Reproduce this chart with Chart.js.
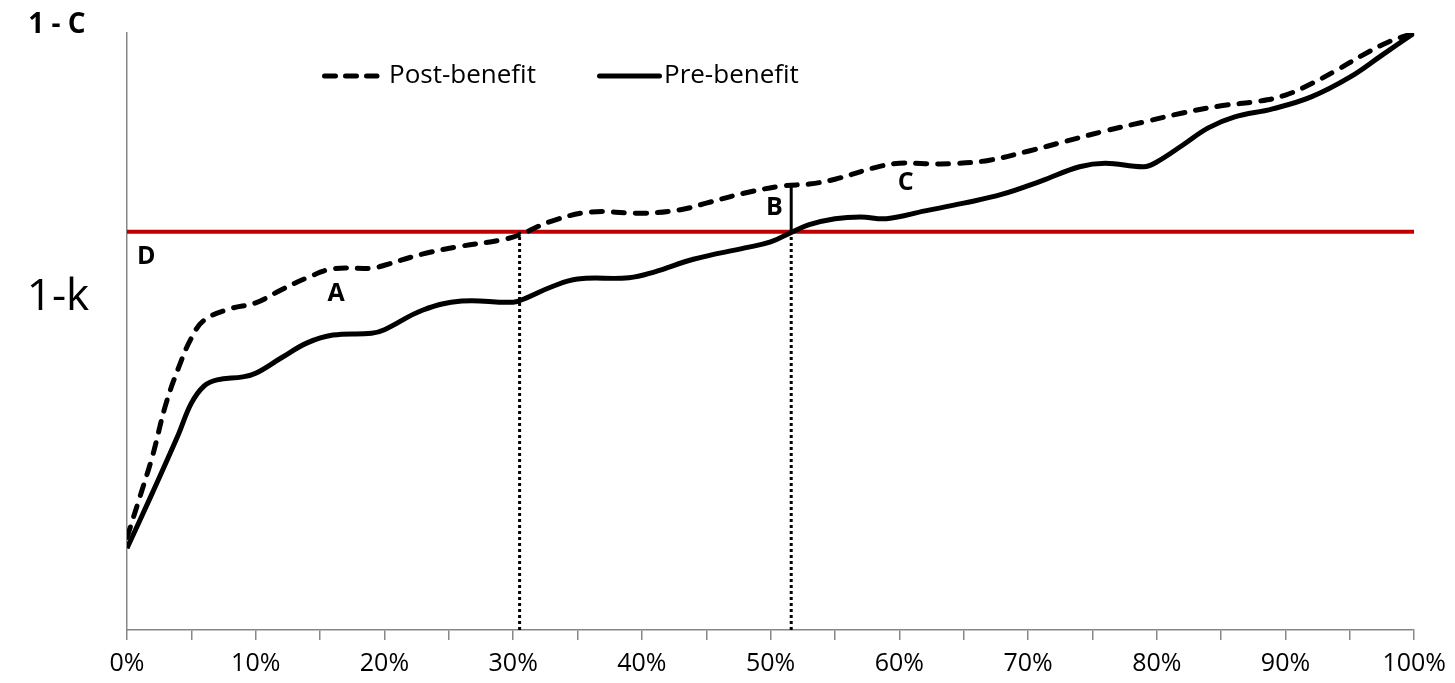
<!DOCTYPE html>
<html>
<head>
<meta charset="utf-8">
<script src="https://cdn.jsdelivr.net/npm/chart.js@4/dist/chart.umd.min.js"></script>
<style>
  body { margin: 0; background: #fff; }
  canvas { display: block; }
</style>
</head>
<body>
<canvas id="benefitChart" width="1455" height="683"></canvas>
<script>
// share of population (%) and level, 0 = bottom of plot, 100 = top (1 - C)
const postX = [0, 1, 2, 3, 4, 5, 6, 8, 10, 12, 14, 16, 19, 20, 23, 26, 29, 30.5, 33, 36, 40, 43, 45, 48, 51, 53, 55, 58, 60, 62, 64, 67, 70, 73, 76, 79, 82, 85, 88, 90, 92, 94, 96, 98, 100];
const postY = [15.5, 22.3, 29.3, 37.7, 43.9, 48.9, 51.9, 53.8, 54.8, 57.0, 59.0, 60.5, 60.6, 61.1, 63.0, 64.3, 65.3, 66.2, 68.5, 70.0, 69.8, 70.4, 71.5, 73.2, 74.4, 74.7, 75.5, 77.4, 78.2, 78.1, 78.1, 78.7, 80.2, 81.9, 83.6, 85.1, 86.6, 87.8, 88.6, 89.6, 91.5, 93.8, 96.3, 98.5, 100];

const preX = [0, 2, 4, 5, 6, 7, 9, 10, 12, 14, 16, 19, 20, 23, 26, 30, 31, 33, 35, 39, 41, 44, 48, 50, 51.6, 53, 55, 57, 59, 62, 65, 68, 71, 74, 76, 79, 80, 82, 84, 86, 89, 92, 95, 97.5, 100];
const preY = [13.7, 23.1, 32.8, 38.0, 40.9, 41.9, 42.4, 43.0, 45.6, 48.1, 49.4, 49.7, 50.3, 53.6, 55.1, 54.9, 55.6, 57.5, 58.8, 59.0, 60.0, 62.1, 64.0, 65.0, 66.6, 67.9, 68.9, 69.2, 68.9, 70.2, 71.5, 73.0, 75.2, 77.6, 78.2, 77.6, 78.4, 81.2, 84.1, 85.9, 87.3, 89.3, 92.6, 96.3, 100];

const kLevel = 66.7;        // 1-k line
const crossPost = 30.5;     // post-benefit curve meets 1-k
const crossPre = 51.6;      // pre-benefit curve meets 1-k
const gapTop = 74.5;        // post-benefit level above crossPre
const xTicks = [0, 10, 20, 30, 40, 50, 60, 70, 80, 90, 100];

const pts = (xs, ys) => xs.map((x, i) => ({ x: x, y: ys[i] }));
const FONT = "'Open Sans', 'Noto Sans', sans-serif";
const GREY = '#878787';

// texts and the hand drawn legend
const notes = {
  id: 'notes',
  afterDraw(chart) {
    const ctx = chart.ctx;
    const sx = chart.scales.x, sy = chart.scales.y;
    ctx.save();
    ctx.fillStyle = '#000';
    ctx.textAlign = 'center';
    ctx.textBaseline = 'middle';

    ctx.font = 'bold 28px ' + FONT;
    ctx.fillText('1 - C', 57, 25);
    ctx.font = '44px ' + FONT;
    ctx.fillText('1-k', 58, 297);

    ctx.font = 'bold 25px ' + FONT;
    [['A', 16.25, 56.3], ['B', 50.3, 70.7], ['C', 60.5, 74.9], ['D', 1.5, 62.5]].forEach(([t, x, y]) => {
      ctx.fillText(t, sx.getPixelForValue(x), sy.getPixelForValue(y));
    });

    // legend
    ctx.strokeStyle = '#000';
    ctx.lineWidth = 5;
    ctx.lineCap = 'round';
    ctx.setLineDash([11, 10]);
    ctx.beginPath(); ctx.moveTo(324.5, 76); ctx.lineTo(377, 76); ctx.stroke();
    ctx.setLineDash([]);
    ctx.beginPath(); ctx.moveTo(599.5, 76); ctx.lineTo(659.5, 76); ctx.stroke();

    ctx.font = '26px ' + FONT;
    ctx.textAlign = 'left';
    ctx.fillText('Post-benefit', 389, 76);
    ctx.fillText('Pre-benefit', 664, 76);
    ctx.restore();
  }
};

new Chart(document.getElementById('benefitChart'), {
  type: 'line',
  data: {
    datasets: [
      {
        label: 'Post-benefit',
        data: pts(postX, postY),
        borderColor: '#000',
        borderWidth: 5,
        borderDash: [11, 11],
        borderCapStyle: 'round',
        tension: 0.4,
        pointRadius: 0
      },
      {
        label: 'Pre-benefit',
        data: pts(preX, preY),
        borderColor: '#000',
        borderWidth: 5,
        tension: 0.4,
        pointRadius: 0
      },
      {
        label: 'gap',
        data: [{ x: crossPre, y: kLevel }, { x: crossPre, y: gapTop }],
        borderColor: '#000',
        borderWidth: 3,
        pointRadius: 0
      },
      {
        label: 'drop1',
        data: [{ x: crossPost, y: 0 }, { x: crossPost, y: kLevel }],
        borderColor: '#000',
        borderWidth: 3,
        borderDash: [3, 3],
        pointRadius: 0
      },
      {
        label: 'drop2',
        data: [{ x: crossPre, y: 0 }, { x: crossPre, y: kLevel }],
        borderColor: '#000',
        borderWidth: 3,
        borderDash: [3, 3],
        pointRadius: 0
      },
      {
        label: '1-k',
        data: [{ x: 0, y: kLevel }, { x: 100, y: kLevel }],
        borderColor: '#c00000',
        borderWidth: 4,
        pointRadius: 0
      }
    ]
  },
  options: {
    responsive: false,
    animation: false,
    events: [],
    devicePixelRatio: 1,
    layout: { padding: { top: 33, right: 39, bottom: 0, left: 0 } },
    plugins: { legend: { display: false }, tooltip: { enabled: false } },
    scales: {
      x: {
        type: 'linear',
        min: 0,
        max: 100,
        afterBuildTicks: (s) => {
          s.ticks = [];
          for (let v = 0; v <= 100; v += 5) s.ticks.push({ value: v });
        },
        afterFit: (s) => { s.height = 53; },
        ticks: {
          autoSkip: false,
          maxRotation: 0,
          padding: 9,
          color: '#000',
          font: { family: FONT, size: 25 },
          callback: (v) => xTicks.includes(v) ? v + '%' : ''
        },
        grid: { drawOnChartArea: false, tickLength: 10, color: GREY, lineWidth: 1.5 },
        border: { color: GREY, width: 1.5 }
      },
      y: {
        min: 0,
        max: 100,
        afterFit: (s) => { s.width = 127; },
        ticks: { display: false },
        grid: { display: false },
        border: { color: GREY, width: 1.5 }
      }
    }
  },
  plugins: [notes]
});
</script>
</body>
</html>
